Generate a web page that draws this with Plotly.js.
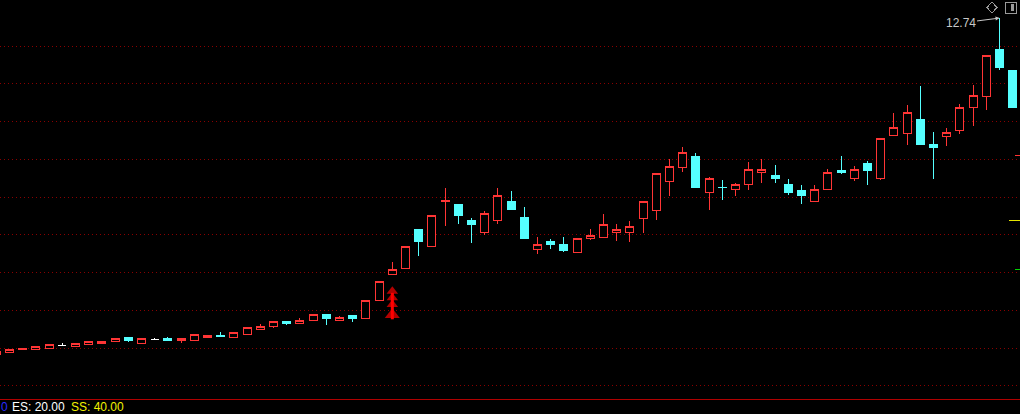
<!DOCTYPE html>
<html>
<head>
<meta charset="utf-8">
<script src="https://cdn.plot.ly/plotly-3.0.1.min.js"></script>
<style>
html,body{margin:0;padding:0;background:#000;}
#chart{width:1020px;height:414px;}
#chart path.box{shape-rendering:crispEdges;}
#chart .shapelayer path{shape-rendering:crispEdges;}
</style>
</head>
<body>
<div id="chart"></div>
<script>
// ---- data ----
const bars = [-1,0,1,2,3,4,5,6,7,8,9,10,11,12,13,14,15,16,17,18,19,20,21,22,23,24,25,26,27,28,29,30,31,32,33,34,35,36,37,38,39,40,41,42,43,44,45,46,47,48,49,50,51,52,53,54,55,56,57,58,59,60,61,62,63,64,65,66,67,68,69,70,71,72,73,74,75,76];
const open  = [3.84,3.89,3.95,3.97,4.00,4.07,4.05,4.08,4.11,4.16,4.29,4.13,4.23,4.26,4.19,4.21,4.29,4.34,4.27,4.37,4.50,4.56,4.69,4.66,4.72,4.90,4.74,4.85,4.79,5.27,5.94,6.10,7.13,6.68,7.88,7.79,7.39,7.05,7.39,7.89,7.47,6.62,6.82,6.74,6.52,6.91,6.92,7.07,7.05,7.42,7.63,8.40,8.77,9.06,8.13,8.26,8.21,8.34,8.64,8.56,8.32,8.16,7.87,8.19,8.69,8.48,8.90,8.48,9.62,9.67,10.04,9.40,9.59,9.75,10.36,10.65,11.92,11.36];
const high  = [3.92,3.95,4.00,4.05,4.08,4.13,4.11,4.16,4.17,4.24,4.29,4.24,4.27,4.29,4.24,4.37,4.34,4.42,4.40,4.53,4.64,4.69,4.69,4.79,4.90,4.90,4.85,4.87,5.25,5.77,6.28,6.68,7.13,7.52,8.24,7.79,7.44,7.63,8.24,8.16,7.74,6.94,6.89,6.94,6.89,7.15,7.55,7.28,7.36,7.89,8.61,9.01,9.32,9.17,8.53,8.45,8.37,8.93,9.01,8.85,8.48,8.32,8.32,8.74,9.09,8.82,8.95,9.56,10.23,10.44,10.94,9.72,9.83,10.46,10.97,11.76,12.74,11.36];
const low   = [3.84,3.89,3.95,3.97,4.00,4.07,4.05,4.08,4.11,4.16,4.16,4.13,4.23,4.19,4.13,4.21,4.29,4.29,4.27,4.37,4.48,4.53,4.61,4.66,4.72,4.61,4.74,4.69,4.79,5.25,5.94,6.10,6.44,6.68,7.23,7.28,6.78,6.99,7.28,7.66,6.91,6.49,6.62,6.54,6.52,6.86,6.92,6.83,6.81,7.05,7.39,8.03,8.66,8.26,7.66,7.92,8.03,8.19,8.37,8.37,8.05,7.81,7.87,8.19,8.61,8.42,8.32,8.45,9.62,9.38,9.40,8.48,9.35,9.67,9.88,10.30,11.36,10.36];
const close = [3.92,3.95,4.00,4.05,4.08,4.07,4.11,4.16,4.17,4.24,4.21,4.24,4.23,4.21,4.24,4.37,4.34,4.31,4.40,4.53,4.58,4.69,4.66,4.74,4.90,4.79,4.82,4.79,5.25,5.77,6.07,6.68,6.83,7.52,7.92,7.50,7.26,7.55,8.05,7.68,6.91,6.73,6.74,6.57,6.89,6.97,7.28,7.13,7.21,7.89,8.61,8.82,9.17,8.26,8.50,8.24,8.34,8.72,8.72,8.48,8.11,8.05,8.19,8.64,8.64,8.74,8.69,9.56,9.85,10.23,9.40,9.32,9.72,10.36,10.68,11.76,11.44,10.36];

// buy-signal arrow stack under bar 29
const signalBar   = [29,29,29,29];
const signalPrice = [5.50,5.33,5.15,4.88];
const signalSize  = [10,10,10,13];
const stemPrice   = [5.46,4.76];

// price-scale level marks at the right edge
const levelPrice = [9.11,7.39,6.07];
const levelColor = ['#ff3333','#e6e600','#00d000'];
const levelLen   = [5,11,5];

// peak label
const peakBar = 75;
const peakPrice = 12.74;

// status bar
const statusText  = ['0','ES: 20.00','SS: 40.00'];
const statusColor = ['#2a2aff','#ffffff','#f2f200'];

const gridPrices = [3,4,5,6,7,8,9,10,11,12];

// ---- build traces ----
const UP = '#ff3535', DOWN = '#55ffff', DOJI = '#ffffff';
function subset(pred){
  const o={x:[],open:[],high:[],low:[],close:[]};
  bars.forEach((b,i)=>{ if(pred(open[i],close[i])){o.x.push(b);o.open.push(open[i]);o.high.push(high[i]);o.low.push(low[i]);o.close.push(close[i]);} });
  return o;
}
function candle(d, lineColor, fill){
  return Object.assign({type:'candlestick', hoverinfo:'skip', showlegend:false, whiskerwidth:0,
    increasing:{line:{color:lineColor,width:1}, fillcolor:fill},
    decreasing:{line:{color:lineColor,width:1}, fillcolor:fill}}, d);
}
const traces = [
  candle(subset((o,c)=>c>o), UP, '#000000'),
  candle(subset((o,c)=>c<o), DOWN, DOWN),
  candle(subset((o,c)=>c===o), DOJI, DOJI),
  {type:'scatter', mode:'lines', x:[signalBar[0],signalBar[0]], y:stemPrice, line:{color:'#ff0000',width:3}, hoverinfo:'skip', showlegend:false},
  {type:'scatter', mode:'markers', x:signalBar, y:signalPrice, marker:{symbol:'triangle-up', size:signalSize, color:'#ff0000', line:{width:0}}, hoverinfo:'skip', showlegend:false}
];

const W=1020, PH=399;
const shapes = levelPrice.map((p,i)=>({type:'line', xref:'paper', yref:'y', x0:1-levelLen[i]/W, x1:1, y0:p, y1:p, line:{color:levelColor[i], width:1}}));
// top-right toolbar icons
shapes.push({type:'path', xref:'paper', yref:'paper',
  path:`M ${992/W} ${1-2/PH} L ${997/W} ${1-7.5/PH} L ${992/W} ${1-13/PH} L ${987/W} ${1-7.5/PH} Z`, line:{color:'#9a9a9a',width:1}});
shapes.push({type:'rect', xref:'paper', yref:'paper', x0:1005/W, x1:1016/W, y0:1-2/PH, y1:1-13/PH, line:{color:'#9a9a9a',width:1}, fillcolor:'rgba(0,0,0,0)'});
shapes.push({type:'rect', xref:'paper', yref:'paper', x0:1011/W, x1:1014/W, y0:1-4/PH, y1:1-11/PH, line:{width:0}, fillcolor:'#9a9a9a'});

const statusX = [0,11,70];
const annotations = [{
  x:peakBar, y:peakPrice, xref:'x', yref:'y', text:peakPrice.toFixed(2),
  showarrow:true, ax:-39, ay:5, arrowhead:2, arrowsize:0.8, arrowwidth:1, arrowcolor:'#c8c8c8',
  font:{family:'Liberation Sans, Arial, sans-serif', size:12, color:'#c8c8c8'}
}].concat(statusText.map((t,i)=>({
  xref:'paper', yref:'paper', x:statusX[i]/W, y:-(407-PH)/PH, xanchor:'left', yanchor:'middle',
  text:t, showarrow:false, borderpad:0, font:{family:'Liberation Sans, Arial, sans-serif', size:12, color:statusColor[i]}
})));

const layout = {
  width:W, height:414,
  margin:{l:0,r:0,t:0,b:15,pad:0},
  paper_bgcolor:'#000000', plot_bgcolor:'#000000',
  showlegend:false,
  boxgap:0.4, boxgroupgap:0,
  xaxis:{type:'linear', range:[-0.72,76.55], showgrid:false, zeroline:false, showticklabels:false, ticks:'',
         showline:true, linecolor:'#b00000', linewidth:1, rangeslider:{visible:false}, fixedrange:true},
  yaxis:{range:[2.649,13.2185], tickmode:'array', tickvals:gridPrices, showticklabels:false, ticks:'',
         showgrid:true, gridcolor:'#8a0000', gridwidth:1, griddash:'1px,3px', zeroline:false, showline:false, fixedrange:true},
  shapes:shapes, annotations:annotations
};
Plotly.newPlot('chart', traces, layout, {displayModeBar:false, staticPlot:true});
</script>
</body>
</html>
